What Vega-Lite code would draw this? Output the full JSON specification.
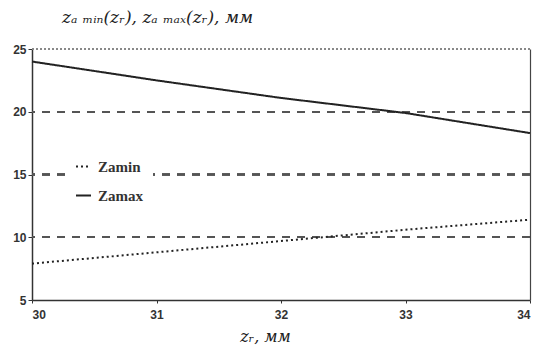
{
  "$schema": "https://vega.github.io/schema/vega-lite/v6.json",
  "autosize": "none",
  "width": 498,
  "height": 251,
  "padding": {"left": 32, "top": 49, "right": 4, "bottom": 47},
  "background": "white",
  "view": {"stroke": null},
  "title": {
    "text": "zₐ ₘᵢₙ(zᵣ), zₐ ₘₐₓ(zᵣ),  мм",
    "anchor": "start",
    "frame": "group",
    "dx": 30,
    "offset": 16,
    "font": "DejaVu Serif",
    "fontStyle": "italic",
    "fontWeight": "normal",
    "fontSize": 17,
    "color": "#222"
  },
  "data": {
    "values": [
      {"x": 30, "series": "Zamin", "z": 7.9},
      {"x": 31, "series": "Zamin", "z": 8.8},
      {"x": 32, "series": "Zamin", "z": 9.7},
      {"x": 33, "series": "Zamin", "z": 10.6},
      {"x": 34, "series": "Zamin", "z": 11.4},
      {"x": 30, "series": "Zamax", "z": 24.0},
      {"x": 31, "series": "Zamax", "z": 22.5},
      {"x": 32, "series": "Zamax", "z": 21.1},
      {"x": 33, "series": "Zamax", "z": 19.9},
      {"x": 34, "series": "Zamax", "z": 18.3}
    ]
  },
  "layer": [
    {
      "mark": {"type": "rule", "color": "#555", "strokeWidth": 1.5, "strokeDash": [8, 7]},
      "encoding": {"y": {"datum": 10, "type": "quantitative", "scale": {"domain": [5, 25], "nice": false, "zero": false}, "axis": null}}
    },
    {
      "mark": {"type": "rule", "color": "#555", "strokeWidth": 1.5, "strokeDash": [8, 7]},
      "encoding": {"y": {"datum": 15, "type": "quantitative", "scale": {"domain": [5, 25], "nice": false, "zero": false}, "axis": null}}
    },
    {
      "mark": {"type": "rule", "color": "#555", "strokeWidth": 1.5, "strokeDash": [8, 7]},
      "encoding": {"y": {"datum": 20, "type": "quantitative", "scale": {"domain": [5, 25], "nice": false, "zero": false}, "axis": null}}
    },
    {
      "mark": {"type": "rule", "color": "#888", "strokeWidth": 1, "strokeDash": [2, 2]},
      "encoding": {"y": {"datum": 25, "type": "quantitative", "scale": {"domain": [5, 25], "nice": false, "zero": false}, "axis": null}}
    },
    {
      "mark": {"type": "line", "color": "#222", "strokeWidth": 2},
      "encoding": {
        "x": {
          "field": "x", "type": "quantitative",
          "scale": {"domain": [30, 34], "nice": false},
          "axis": {
            "values": [30, 31, 32, 33, 34],
            "format": "d",
            "title": "zᵣ,  мм",
            "titleFont": "DejaVu Serif",
            "titleFontStyle": "italic",
            "titleFontWeight": "normal",
            "titleFontSize": 16,
            "titleColor": "#222",
            "titlePadding": 8,
            "titleX": 233,
            "labelFont": "Liberation Sans",
            "labelFontWeight": "bold",
            "labelFontSize": 12,
            "labelColor": "#333",
            "labelPadding": 6,
            "domainColor": "#333",
            "domainWidth": 1.5,
            "tickColor": "#333",
            "tickSize": 3,
            "grid": false
          }
        },
        "y": {
          "field": "z", "type": "quantitative",
          "scale": {"domain": [5, 25], "nice": false, "zero": false},
          "axis": {
            "values": [5, 10, 15, 20, 25],
            "title": null,
            "labelFont": "Liberation Sans",
            "labelFontWeight": "bold",
            "labelFontSize": 12,
            "labelColor": "#333",
            "labelPadding": 2,
            "domainColor": "#333",
            "domainWidth": 1.5,
            "tickColor": "#333",
            "tickSize": 4,
            "grid": false
          }
        },
        "strokeDash": {
          "field": "series", "type": "nominal",
          "scale": {"domain": ["Zamin", "Zamax"], "range": [[2, 3], [1, 0]]},
          "legend": {
            "title": null,
            "orient": "none",
            "legendX": 33,
            "legendY": 99,
            "zindex": 5,
            "fillColor": "#ffffff",
            "padding": 10,
            "symbolType": "stroke",
            "symbolSize": 225,
            "symbolStrokeWidth": 2,
            "symbolStrokeColor": "#222",
            "rowPadding": 12,
            "labelFont": "Liberation Serif",
            "labelFontWeight": "bold",
            "labelFontSize": 15,
            "labelColor": "#333",
            "labelOffset": 6
          }
        }
      }
    },
    {
      "mark": {"type": "rule", "opacity": 0},
      "encoding": {
        "y": {
          "field": "z", "type": "quantitative",
          "scale": {"domain": [5, 25], "nice": false, "zero": false},
          "axis": {
            "orient": "right",
            "labels": false,
            "ticks": false,
            "grid": false,
            "title": null,
            "domainColor": "#444",
            "domainWidth": 1.2
          }
        }
      }
    }
  ],
  "resolve": {"axis": {"y": "independent"}}
}
